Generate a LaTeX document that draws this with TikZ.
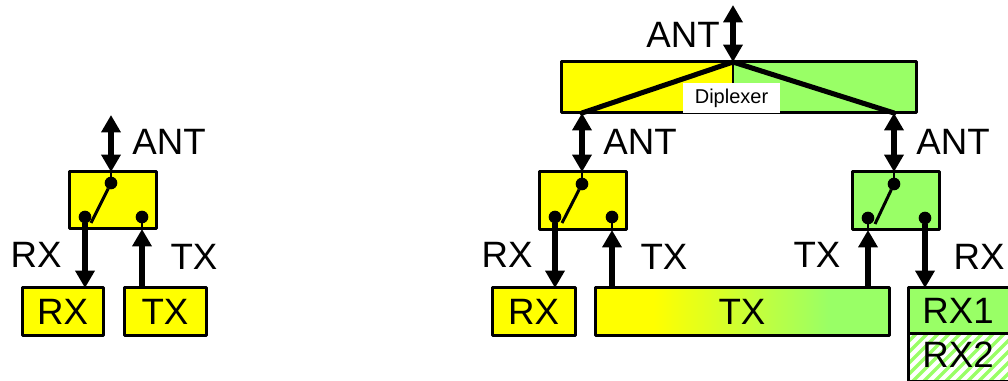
\documentclass[tikz,border=0pt]{standalone}
\usepackage{fontspec}
\setmainfont{Liberation Sans}
\usetikzlibrary{arrows.meta,calc}
\definecolor{grn}{HTML}{99FF66}
\definecolor{yel}{HTML}{FFFF00}
\pgfdeclarehorizontalshading{txshade}{100bp}{color(0bp)=(yel); color(35bp)=(yel); color(65bp)=(grn); color(100bp)=(grn)}
\newcommand{\pxbox}[7]{% name,x1,y1,x2,y2,style,text
  \pgfmathsetmacro{\pxw}{(#4-#2)*0.75}\pgfmathsetmacro{\pxh}{(#5-#3)*0.75}
  \pgfmathsetmacro{\pxx}{(#2+#4)/2}\pgfmathsetmacro{\pxy}{(#3+#5)/2}
  \node[boxn,#6,minimum width=\pxw pt,minimum height=\pxh pt] (#1) at (\pxx,\pxy) {#7};}
\tikzset{
  x=0.75pt,y=-0.75pt,
  boxn/.style={draw=black,line width=2.25pt,line join=round,inner sep=0pt,outer sep=0pt,font=\fontsize{27.5}{27.5}\selectfont,text=black},
  yb/.style={fill=yel},
  gb/.style={fill=grn},
  lab/.style={inner sep=0pt,font=\fontsize{27.5}{27.5}\selectfont},
  dotn/.style={circle,fill=black,inner sep=0pt,minimum size=9.5pt,outer sep=0pt},
  thinl/.style={line width=1.5pt},
  swl/.style={line width=2.25pt},
  arr/.style={line width=4.5pt,-{Triangle[length=13pt,width=14pt]}},
  darr/.style={line width=4.5pt,{Triangle[length=13pt,width=14pt]}-{Triangle[length=13pt,width=14pt]}},
  dipl/.style={line width=3.8pt,line cap=round},
}
\begin{document}
\begin{tikzpicture}
\useasboundingbox (0,0) rectangle (1008,381);
\begin{scope}
\clip (0,0) rectangle (1008,381);
% ---- left
\pxbox{swA}{69}{172}{156}{229}{yb}{}
\pxbox{rxA}{22}{288}{103}{336}{yb}{RX}
\pxbox{txA}{124}{288}{206}{336}{yb}{TX}
\node[dotn] (dA1) at (111,183) {};
\node[dotn] (dA2) at (85,217) {};
\node[dotn] (dA3) at (142,217) {};
\coordinate (swEndA) at (91,223);
\coordinate (antA) at (111,115);
\draw[swl] (dA1) -- (swEndA);
\draw[thinl] (dA1) -- (swA.north -| dA1);
\draw[darr] (antA) -- (swA.north -| antA);
\draw[arr] (dA2) -- (rxA.north -| dA2);
\draw[thinl] (dA3) -- (swA.south -| dA3);
\draw[arr] (txA.north -| dA3) -- (swA.south -| dA3);
\node[lab] (lA1) at (169,142) {ANT};
\node[lab] (lA2) at (36,255) {RX};
\node[lab] (lA3) at (194,257) {TX};
% ---- diplexer
\fill[yel] (561,62) rectangle (733,113);
\fill[grn] (733,62) rectangle (916,113);
\pxbox{dip}{561}{62}{916}{113}{fill=none}{}
\node[fill=white,inner sep=0pt,minimum width=72.75pt,minimum height=22.5pt,font=\fontsize{15}{15}\selectfont] (dipl) at (731.5,98) {Diplexer};
\coordinate (dipT) at (733,62);
\coordinate (dipL) at (582,113);
\coordinate (dipR) at (894,113);
\coordinate (antB) at (733,5);
\draw[thinl] (dipT) -- (dipl.north -| dipT);
\draw[dipl] (dipL) -- (dipT) -- (dipR);
\draw[darr] (antB) -- (dipT);
\node[lab] (lB0) at (683,35) {ANT};
% ---- middle switch
\pxbox{swB}{539}{172}{626}{230}{yb}{}
\pxbox{rxB}{492}{288}{575}{336}{yb}{RX}
\pxbox{txB}{595}{288}{889}{336}{shading=txshade}{TX}
\node[dotn] (dB1) at (582,184) {};
\node[dotn] (dB2) at (555,217) {};
\node[dotn] (dB3) at (612,217) {};
\coordinate (swEndB) at (562,223);
\draw[swl] (dB1) -- (swEndB);
\draw[thinl] (dB1) -- (swB.north -| dB1);
\draw[darr] (dipL) -- (swB.north -| dipL);
\draw[arr] (dB2) -- (rxB.north -| dB2);
\draw[thinl] (dB3) -- (swB.south -| dB3);
\draw[arr] (txB.north -| dB3) -- (swB.south -| dB3);
\node[lab] (lB1) at (640,142) {ANT};
\node[lab] (lB2) at (507,255) {RX};
\node[lab] (lB3) at (664,257) {TX};
% ---- right switch
\pxbox{swC}{852}{172}{939}{230}{gb}{}
\node[dotn] (dC1) at (894,184) {};
\node[dotn] (dC2) at (868,218) {};
\node[dotn] (dC3) at (925,218) {};
\coordinate (swEndC) at (875,224);
\draw[swl] (dC1) -- (swEndC);
\draw[thinl] (dC1) -- (swC.north -| dC1);
\draw[darr] (dipR) -- (swC.north -| dipR);
\draw[thinl] (dC2) -- (swC.south -| dC2);
\draw[arr] (txB.north -| dC2) -- (swC.south -| dC2);
\pxbox{rxC}{908}{288}{1012}{334}{gb}{}
\begin{scope}
\clip (908,334) rectangle (1012,381);
\foreach \k in {0,...,16}{\draw[grn,line width=2.6pt] (860+\k*11,390) -- (860+\k*11+60,330);}
\end{scope}
\draw[boxn] (908,381) -- (908,334) -- (1012,334);
\draw[boxn,line width=1.5pt] (908,381) -- (1012,381);
\draw[arr] (dC3) -- (rxC.north -| dC3);
\node[lab] (lC0) at (953,142) {ANT};
\node[lab] (lC1) at (817,255) {TX};
\node[lab] (lC2) at (979,257) {RX};
\node[lab] (lC3) at (958,311) {RX1};
\node[lab] (lC4) at (958,355) {RX2};
\end{scope}
\end{tikzpicture}
\end{document}
